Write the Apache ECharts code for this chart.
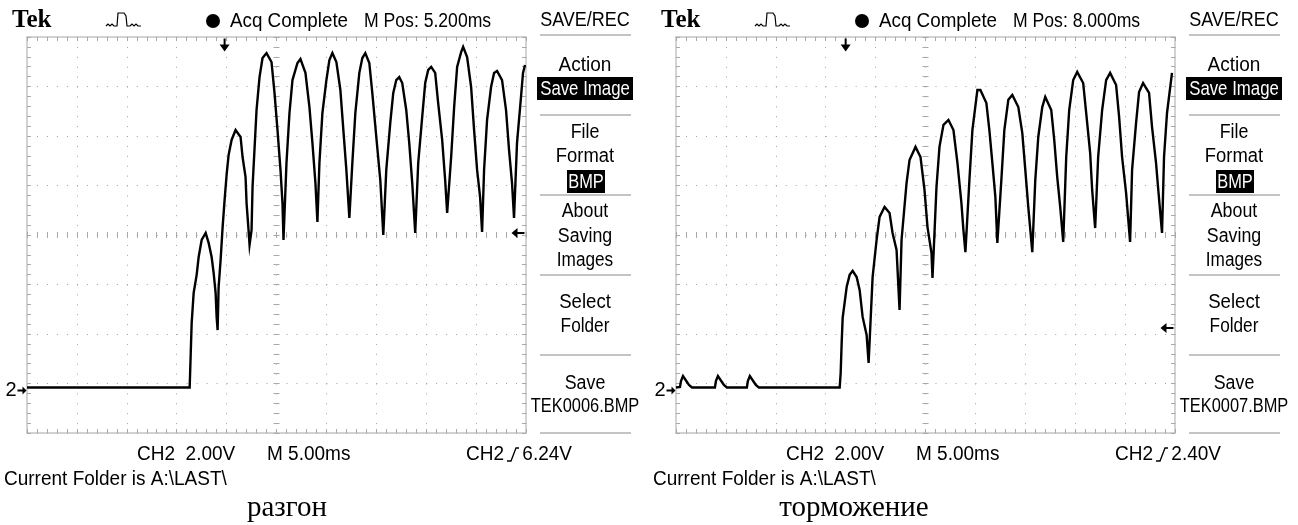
<!DOCTYPE html>
<html><head><meta charset="utf-8">
<script src="https://cdn.jsdelivr.net/npm/echarts/dist/echarts.min.js"></script>
<style>html,body{margin:0;padding:0;background:#fff}#c{width:1298px;height:525px}</style>
</head><body><div id="c"></div>
<script>
// ---- data: [time ms, volts above CH2 ground] ----
const leftTrace = [[0,0],[16.3,0],[16.4,1.31],[16.5,2.61],[16.7,3.82],[17.0,4.55],[17.2,5.27],[17.5,5.96],[17.9,6.24],[18.2,5.84],[18.5,5.27],[18.7,4.63],[18.9,3.82],[19.0,2.85],[19.1,2.32],[19.2,4.06],[19.4,5.15],[19.6,6.48],[19.8,7.58],[20.0,8.59],[20.2,9.39],[20.5,10.0],[20.9,10.4],[21.4,10.12],[21.6,9.31],[21.9,8.5],[22.0,7.45],[22.2,6.36],[22.3,5.76],[22.5,6.36],[22.6,8.1],[23.0,11.21],[23.3,12.54],[23.6,13.31],[24.0,13.51],[24.5,13.15],[24.8,11.9],[25.1,10.4],[25.4,8.79],[25.6,7.45],[25.7,5.96],[26.0,9.07],[26.3,11.09],[26.6,12.42],[27.1,13.11],[27.4,13.27],[27.9,12.71],[28.3,11.33],[28.6,9.88],[28.9,8.26],[29.1,6.69],[29.3,9.07],[29.6,11.09],[30.0,12.42],[30.3,13.23],[30.6,13.51],[31.0,13.15],[31.4,12.02],[31.7,10.4],[32.0,8.79],[32.3,6.85],[32.6,9.07],[32.9,11.09],[33.3,12.71],[33.6,13.31],[33.9,13.51],[34.3,13.11],[34.6,11.9],[35.0,10.12],[35.4,8.38],[35.7,6.16],[36.0,8.79],[36.4,10.69],[36.7,11.9],[37.0,12.42],[37.3,12.54],[37.6,12.3],[38.0,11.21],[38.3,9.88],[38.6,8.26],[38.9,6.24],[39.2,9.07],[39.6,10.93],[39.9,12.3],[40.2,12.83],[40.5,12.95],[40.9,12.71],[41.2,11.49],[41.6,10.0],[41.9,8.38],[42.1,7.05],[42.5,9.31],[42.8,11.33],[43.1,12.95],[43.5,13.55],[43.7,13.76],[44.1,13.35],[44.5,12.14],[44.8,10.4],[45.1,8.79],[45.4,7.7],[45.6,6.28],[45.8,8.79],[46.1,10.81],[46.5,12.14],[46.8,12.71],[47.1,12.79],[47.6,12.42],[48.0,11.21],[48.3,9.6],[48.6,8.26],[48.8,6.85],[49.1,9.88],[49.5,11.74],[49.7,12.71],[49.9,13.03]];
const rightTrace = [[0,0],[0.4,0.02],[0.5,0.26],[0.7,0.46],[0.9,0.42],[1.1,0.22],[1.3,0.1],[1.6,0],[3.9,0],[4.0,0.26],[4.2,0.46],[4.4,0.42],[4.6,0.22],[4.8,0.1],[5.1,0],[7.1,0],[7.2,0.26],[7.4,0.46],[7.6,0.42],[7.8,0.22],[8.0,0.1],[8.3,0],[16.4,0],[16.5,0.59],[16.6,1.8],[16.7,2.81],[17.1,4.06],[17.4,4.55],[17.7,4.71],[18.1,4.46],[18.4,3.94],[18.7,2.85],[19.1,2.12],[19.3,0.99],[19.5,2.73],[19.7,4.46],[20.1,5.96],[20.4,6.89],[20.9,7.29],[21.4,7.05],[21.7,6.24],[22.1,5.56],[22.4,3.13],[22.6,5.96],[23.1,8.26],[23.4,9.19],[24.0,9.72],[24.5,9.31],[24.9,7.98],[25.2,6.48],[25.6,5.43],[25.7,4.42],[25.9,6.24],[26.1,8.1],[26.4,9.72],[26.8,10.61],[27.3,10.81],[27.8,10.4],[28.2,9.07],[28.6,7.45],[28.8,6.36],[29.0,5.47],[29.4,8.38],[29.7,10.4],[30.2,12.02],[30.5,12.02],[31.1,11.49],[31.4,10.4],[31.7,9.07],[32.0,7.7],[32.2,5.84],[32.6,8.38],[32.9,10.4],[33.3,11.62],[33.7,11.82],[34.3,11.33],[34.7,10.28],[35.0,8.79],[35.3,7.29],[35.7,5.47],[36.0,8.38],[36.3,10.12],[36.7,11.33],[37.0,11.74],[37.6,11.21],[37.9,10.0],[38.2,8.5],[38.5,7.29],[38.8,5.88],[39.1,9.31],[39.4,11.21],[39.8,12.42],[40.2,12.75],[40.8,12.3],[41.1,11.09],[41.5,9.47],[41.7,7.98],[42.0,6.44],[42.3,9.31],[42.7,11.21],[43.1,12.42],[43.5,12.71],[44.1,12.22],[44.4,10.93],[44.7,9.31],[45.1,7.86],[45.5,5.88],[45.7,8.79],[46.1,10.69],[46.4,11.94],[46.8,12.3],[47.4,11.9],[47.7,10.52],[48.1,9.07],[48.3,8.1],[48.7,6.24],[48.9,9.31],[49.2,11.09],[49.7,12.71]];
const mPosMs = [5.2, 8.0];
const trigLevelV = [6.24, 2.40];
const fileNames = ['TEK0006.BMP', 'TEK0007.BMP'];
const captions = ['разгон', 'торможение'];
const voltsPerDiv = 2.0;
const msPerDiv = 5.0;
const groundDiv = -3.08;   // CH2 ground marker position, in divisions from screen centre
const menuLabels = ['Action', 'File', 'Format', 'About', 'Saving', 'Images', 'Select', 'Folder', 'Save'];

// ---- styling ----
const SANS = '"Liberation Sans",Arial,sans-serif';
const SERIF = '"Liberation Serif","DejaVu Serif",serif';
const BORDER = '#c4c4c4', TICK = '#a9a9a9', DOT = '#a0a0a0';
const ARROW_DOWN = 'path://M4,0 L6,0 L6,6 L10,6 L5,13 L0,6 L4,6 Z';
const ARROW_LEFT = 'path://M0,5 L6,0 L6,4 L13,4 L13,6 L6,6 L6,10 Z';
const ARROW_RIGHT = 'path://M0,3 L5,3 L5,0 L9,4 L5,8 L5,5 L0,5 Z';

const panels = [
  {left: 27, dx: 0, trace: leftTrace},
  {left: 676, dx: 649, trace: rightTrace}
];

const grid = [], xAxis = [], yAxis = [], series = [], graphic = [];

// narrow screen font: regular sans compressed horizontally
function txt(text, x, y, font, align, sx, color, z) {
  graphic.push({type: 'text', x: x, y: y, scaleX: sx || 1, z: z || 10, silent: true,
    style: {text: text, font: font, fill: color || '#000', align: align || 'left', verticalAlign: 'middle',
            textAlign: align || 'left', textVerticalAlign: 'middle'}});
}

panels.forEach(function (p, i) {
  const g = grid.length;
  const xb = xAxis.length, yb = yAxis.length;
  grid.push({left: p.left, top: 37, width: 499, height: 396, outerBoundsMode: 'none', containLabel: false});
  grid.push({left: p.left, top: 37, width: 499, height: 396, outerBoundsMode: 'none', containLabel: false});
  const common = {type: 'value', axisLabel: {show: false}, splitArea: {show: false}};
  xAxis.push(Object.assign({}, common, {gridIndex: g, min: 0, max: msPerDiv * 10, interval: msPerDiv, position: 'bottom',
    axisLine: {show: true, onZero: false, lineStyle: {color: BORDER, width: 1.5}},
    axisTick: {show: true, inside: true, length: 4, lineStyle: {color: TICK}},
    minorTick: {show: true, splitNumber: 5, length: 4, lineStyle: {color: TICK}},
    splitLine: {show: true, lineStyle: {color: DOT, width: 1, type: [1, 8.9]}}, minorSplitLine: {show: false}}));
  xAxis.push(Object.assign({}, common, {gridIndex: g, min: 0, max: msPerDiv * 10, interval: msPerDiv, position: 'top',
    axisLine: {show: true, onZero: false, lineStyle: {color: BORDER, width: 1.5}},
    axisTick: {show: true, inside: true, length: 4, lineStyle: {color: TICK}},
    minorTick: {show: true, splitNumber: 5, length: 4, lineStyle: {color: TICK}},
    splitLine: {show: false}}));
  [true, false].forEach(function (ins) {
    xAxis.push(Object.assign({}, common, {gridIndex: g + 1, min: -5, max: 5, interval: 0.2, position: 'bottom',
      axisLine: {show: false, onZero: true, onZeroAxisIndex: yb + 2},
      axisTick: {show: true, inside: ins, length: 3, lineStyle: {color: TICK}},
      splitLine: {show: false}}));
  });
  yAxis.push(Object.assign({}, common, {gridIndex: g, min: -4, max: 4, interval: 1, position: 'left',
    axisLine: {show: true, onZero: false, lineStyle: {color: BORDER, width: 1.5}},
    axisTick: {show: true, inside: true, length: 4, lineStyle: {color: TICK}},
    minorTick: {show: true, splitNumber: 5, length: 4, lineStyle: {color: TICK}},
    splitLine: {show: true, lineStyle: {color: DOT, width: 1, type: [1, 8.98]}}, minorSplitLine: {show: false}}));
  yAxis.push(Object.assign({}, common, {gridIndex: g, min: -4, max: 4, interval: 1, position: 'right',
    axisLine: {show: true, onZero: false, lineStyle: {color: BORDER, width: 1.5}},
    axisTick: {show: true, inside: true, length: 4, lineStyle: {color: TICK}},
    minorTick: {show: true, splitNumber: 5, length: 4, lineStyle: {color: TICK}},
    splitLine: {show: false}}));
  [true, false].forEach(function (ins) {
    yAxis.push(Object.assign({}, common, {gridIndex: g + 1, min: -4, max: 4, interval: 0.2, position: 'left',
      axisLine: {show: false, onZero: true, onZeroAxisIndex: xb + 2},
      axisTick: {show: true, inside: ins, length: 3, lineStyle: {color: TICK}},
      splitLine: {show: false}}));
  });

  series.push({
    type: 'line', xAxisIndex: xb, yAxisIndex: yb, animation: false, silent: true,
    showSymbol: false, symbol: 'none', z: 5,
    lineStyle: {color: '#000', width: 2.4, join: 'miter'},
    data: p.trace.map(function (d) { return [d[0], d[1] / voltsPerDiv + groundDiv]; }),
    markPoint: {
      silent: true, animation: false,
      data: [
        {coord: [msPerDiv * 5 - mPosMs[i], 4], symbol: ARROW_DOWN, symbolSize: [10, 13], symbolOffset: [0, 8],
         itemStyle: {color: '#000'}, label: {show: false}},
        {coord: [msPerDiv * 10, trigLevelV[i] / voltsPerDiv + groundDiv], symbol: ARROW_LEFT, symbolSize: [13, 10], symbolOffset: [-8, 0],
         itemStyle: {color: '#000'}, label: {show: false}},
        {coord: [0, groundDiv], symbol: ARROW_RIGHT, symbolSize: [9, 8], symbolOffset: [-5, 3],
         itemStyle: {color: '#000'},
         label: {show: true, position: 'left', distance: 1, formatter: '2', color: '#000', fontSize: 20, fontFamily: SANS}}
      ]
    }
  });

  const dx = p.dx;
  const HF = '20px ' + SANS, HS = 0.9;
  txt('Tek', 12 + dx, 21, 'bold 25px ' + SERIF, 'left');
  graphic.push({type: 'polyline', silent: true, z: 10,
    shape: {points: [[106 + dx, 26], [108 + dx, 24], [110 + dx, 26], [112 + dx, 24], [114 + dx, 26], [117 + dx, 26], [118 + dx, 13], [124 + dx, 13], [126 + dx, 16], [127 + dx, 26], [130 + dx, 26], [132 + dx, 24], [134 + dx, 26], [136 + dx, 24], [138 + dx, 26], [141 + dx, 26]]},
    style: {stroke: '#000', lineWidth: 1.2, fill: null}});
  graphic.push({type: 'circle', silent: true, z: 10, shape: {cx: 213 + dx, cy: 21, r: 7}, style: {fill: '#000'}});
  txt('Acq Complete', 230 + dx, 21, HF, 'left', 0.94);
  txt('M Pos: ' + mPosMs[i].toFixed(3) + 'ms', 364 + dx, 21, HF, 'left', 0.88);
  txt('SAVE/REC', 585 + dx, 20, HF, 'center', HS);
  [35, 115, 195, 275, 355, 433].forEach(function (yy) {
    graphic.push({type: 'line', silent: true, z: 10, shape: {x1: 540 + dx, y1: yy, x2: 631 + dx, y2: yy},
      style: {stroke: '#c4c4c4', lineWidth: 2}});
  });
  const mx = 585 + dx, MF = '20px ' + SANS, MS = 0.89;
  txt(menuLabels[0], mx, 65, MF, 'center', 0.95);
  graphic.push({type: 'rect', silent: true, z: 9, shape: {x: 537 + dx, y: 77, width: 96, height: 23}, style: {fill: '#000'}});
  txt('Save Image', mx, 89, MF, 'center', 0.84, '#fff', 11);
  txt(menuLabels[1], mx, 132, MF, 'center', MS);
  txt(menuLabels[2], mx, 156, MF, 'center', 0.92);
  graphic.push({type: 'rect', silent: true, z: 9, shape: {x: 567 + dx, y: 170, width: 38, height: 23}, style: {fill: '#000'}});
  txt('BMP', mx + 1, 182, MF, 'center', 0.82, '#fff', 11);
  txt(menuLabels[3], mx, 211, MF, 'center', MS);
  txt(menuLabels[4], mx, 236, MF, 'center', MS);
  txt(menuLabels[5], mx, 260, MF, 'center', 0.86);
  txt(menuLabels[6], mx, 302, MF, 'center', 0.93);
  txt(menuLabels[7], mx, 326, MF, 'center', 0.86);
  txt(menuLabels[8], mx, 383, MF, 'center', MS);
  txt(fileNames[i], mx, 406, MF, 'center', 0.82);
  const BF = '20px ' + SANS, BS = 0.95;
  txt('CH2  ' + voltsPerDiv.toFixed(2) + 'V', 137 + dx, 454, BF, 'left', BS);
  txt('M ' + msPerDiv.toFixed(2) + 'ms', 267 + dx, 454, BF, 'left', BS);
  txt('CH2', 466 + dx, 454, BF, 'left', BS);
  graphic.push({type: 'polyline', silent: true, z: 10,
    shape: {points: [[507 + dx, 461], [511 + dx, 461], [516 + dx, 448], [519 + dx, 448]]},
    style: {stroke: '#000', lineWidth: 1.3, fill: null}});
  txt(trigLevelV[i].toFixed(2) + 'V', 572 + dx, 454, BF, 'right', BS);
  txt('Current Folder is A:\\LAST\\', 4 + dx, 479, BF, 'left', BS);
  txt(captions[i], (i === 0 ? 287 : 854), 508, '29px ' + SERIF, 'center');
});

const chart = echarts.init(document.getElementById('c'), null, {renderer: 'canvas', width: 1298, height: 525});
chart.setOption({
  animation: false,
  backgroundColor: '#fff',
  grid: grid, xAxis: xAxis, yAxis: yAxis, series: series, graphic: graphic
});
</script>
</body></html>
